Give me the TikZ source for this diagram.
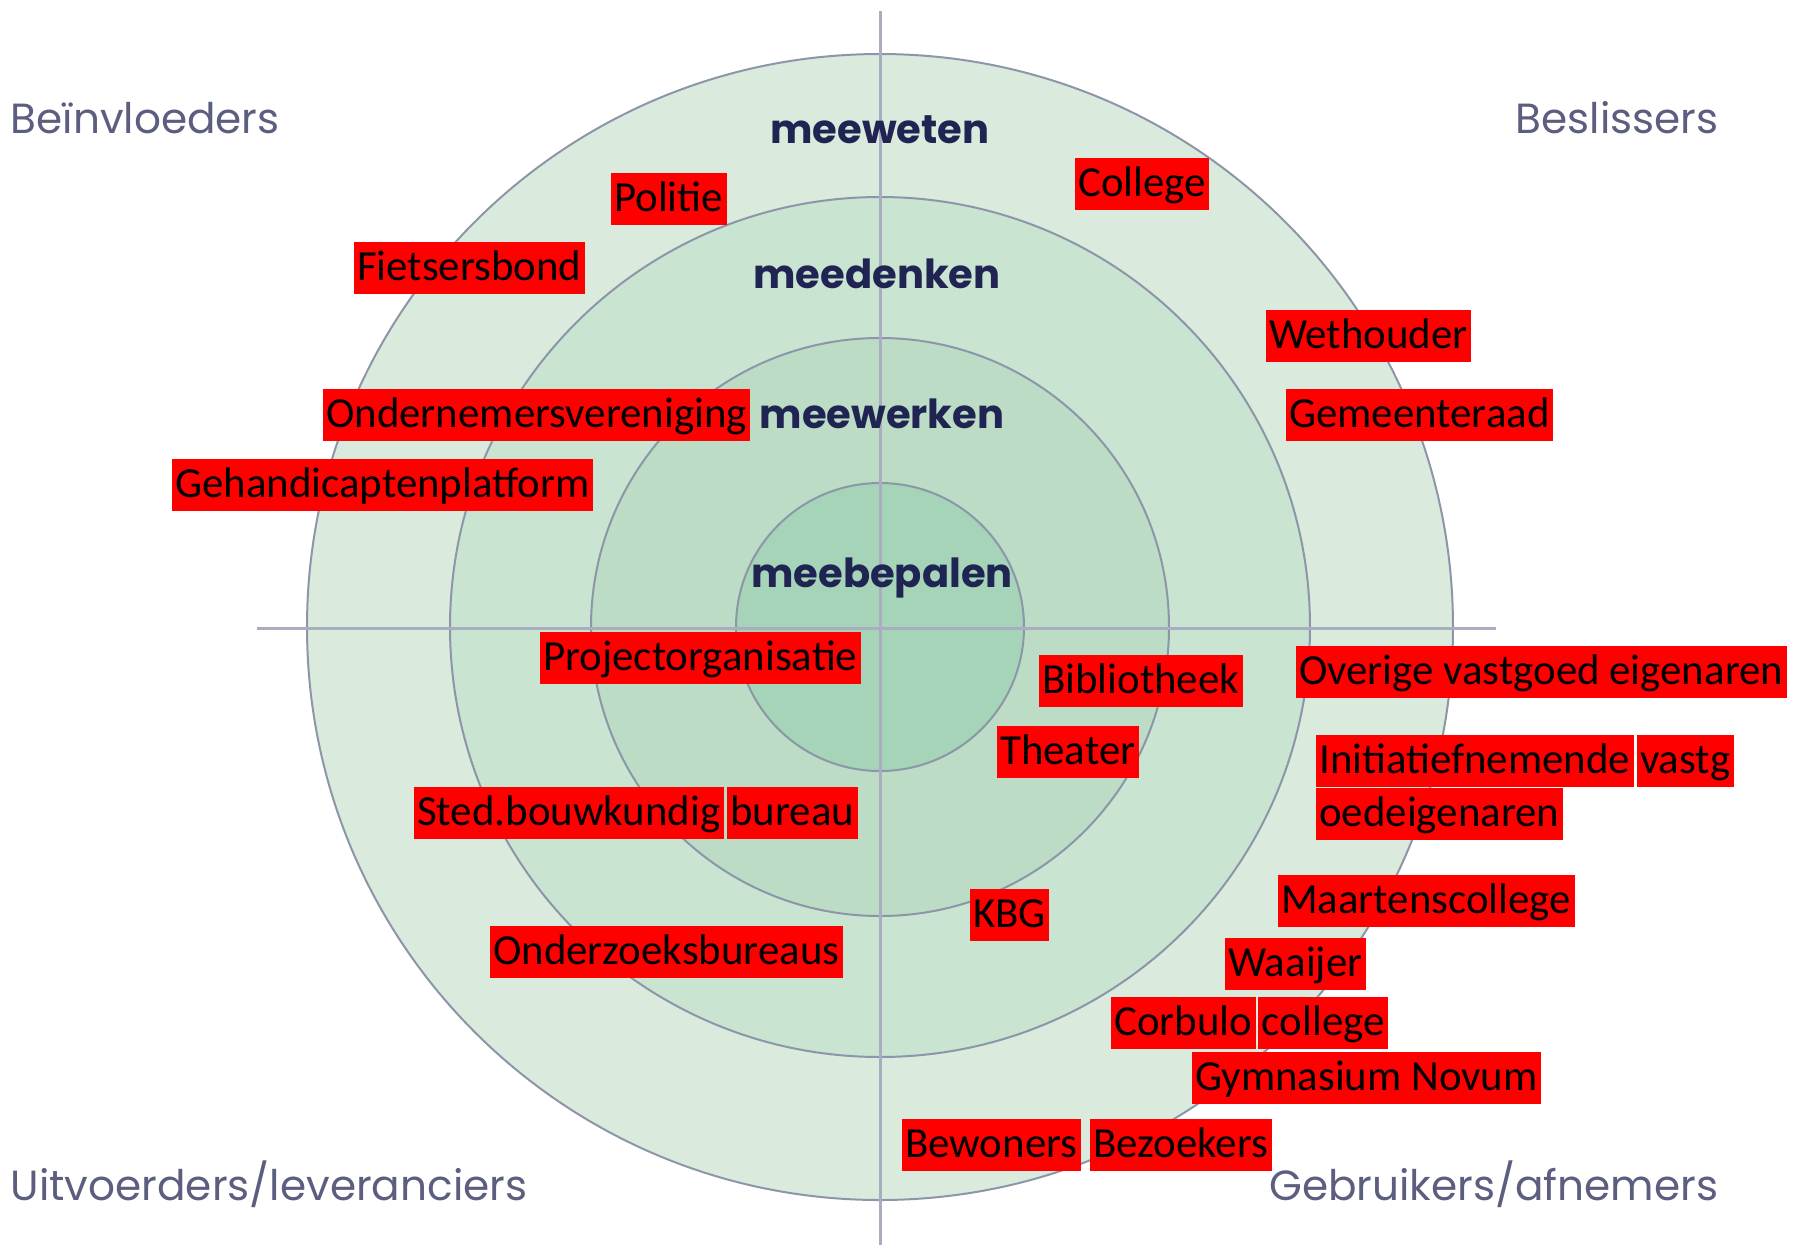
\documentclass[tikz,border=0pt]{standalone}
\usepackage{fontspec}
\usetikzlibrary{positioning}
\newfontfamily\tagfont{Carlito}
\newfontfamily\ringfont{Poppins}
\definecolor{ringA}{RGB}{218,235,221}
\definecolor{ringB}{RGB}{202,228,210}
\definecolor{ringC}{RGB}{188,220,197}
\definecolor{ringD}{RGB}{166,212,184}
\definecolor{rimgrey}{RGB}{140,150,168}
\definecolor{axisgrey}{RGB}{170,172,192}
\definecolor{navy}{RGB}{32,36,82}
\definecolor{sidegrey}{RGB}{92,94,128}
\begin{document}
\begin{tikzpicture}[x=0.1mm, y=-0.1mm,
    rim/.style={draw=rimgrey, line width=0.2mm},
    axis/.style={draw=axisgrey, line width=0.3mm},
    tag/.style={fill=red, anchor=north west, inner xsep=1pt, inner ysep=0pt,
      text height=11pt, text depth=4pt, font=\tagfont\fontsize{12.2}{14}\selectfont},
    ring/.style={anchor=base, inner sep=0pt, text=navy, font=\ringfont\bfseries\fontsize{11.4}{14}\selectfont},
    side/.style={inner sep=0pt, text=sidegrey, font=\ringfont\fontsize{12}{15}\selectfont}]
  \useasboundingbox (0,0) rectangle (1796,1245);

  % Rings
  \coordinate (c) at (880,627);
  \draw[rim, fill=ringA] (c) circle[radius=57.3mm];
  \draw[rim, fill=ringB] (c) circle[radius=43.0mm];
  \draw[rim, fill=ringC] (c) circle[radius=28.9mm];
  \draw[rim, fill=ringD] (c) circle[radius=14.4mm];

  % Axes
  \coordinate (top) at (880,11);
  \coordinate (bottom) at (880,1245);
  \coordinate (left) at (257,628);
  \coordinate (right) at (1496,628);
  \draw[axis] (top) -- (bottom);
  \draw[axis] (left) -- (right);

  % Ring names
  \node[ring] (weten) at (880,143) {meeweten};
  \node[ring] (denken) at (877,288) {meedenken};
  \node[ring] (werken) at (882,428) {meewerken};
  \node[ring] (bepalen) at (882,587) {meebepalen};

  % Quadrants
  \node[side, anchor=base west] (invloed) at (10,133) {Beïnvloeders};
  \node[side, anchor=base east] (beslis) at (1719,133) {Beslissers};
  \node[side, anchor=base west] (uitvoer) at (10,1200) {Uitvoerders/leveranciers};
  \node[side, anchor=base east] (gebruik) at (1719,1200) {Gebruikers/afnemers};

  % Stakeholders
  \node[tag] (politie) at (610,172) {Politie};
  \node[tag] (college) at (1074,157) {College};
  \node[tag] (fiets) at (353,241) {Fietsersbond};
  \node[tag] (wethouder) at (1265,309) {Wethouder};
  \node[tag] (raad) at (1285,388) {Gemeenteraad};
  \node[tag] (ondernemers) at (322,388) {Ondernemersvereniging};
  \node[tag] (gehandicapt) at (171,458) {Gehandicaptenplatform};
  \node[tag] (project) at (539,631) {Projectorganisatie};
  \node[tag] (biblio) at (1038,654) {Bibliotheek};
  \node[tag] (overige) at (1295,645) {Overige vastgoed eigenaren};
  \node[tag] (theater) at (996,725) {Theater};
  \node[tag] (initiatief) at (1315,734) {Initiatiefnemende};
  \node[tag, right=0.4pt of initiatief] (vastg) {vastg};
  \node[tag] (oede) at (1315,787) {oedeigenaren};
  \node[tag] (sted) at (413,786) {Sted.bouwkundig};
  \node[tag, right=0.4pt of sted] (bureau) {bureau};
  \node[tag] (maarten) at (1277,874) {Maartenscollege};
  \node[tag] (kbg) at (969,888) {KBG};
  \node[tag] (onderzoek) at (489,925) {Onderzoeksbureaus};
  \node[tag] (waaijer) at (1224,937) {Waaijer};
  \node[tag] (corbulo) at (1110,996) {Corbulo};
  \node[tag, right=0.4pt of corbulo] (corcollege) {college};
  \node[tag] (novum) at (1191,1051) {Gymnasium Novum};
  \node[tag] (bewoners) at (901,1118) {Bewoners};
  \node[tag, right=2.2pt of bewoners] (bezoekers) {Bezoekers};
\end{tikzpicture}
\end{document}
